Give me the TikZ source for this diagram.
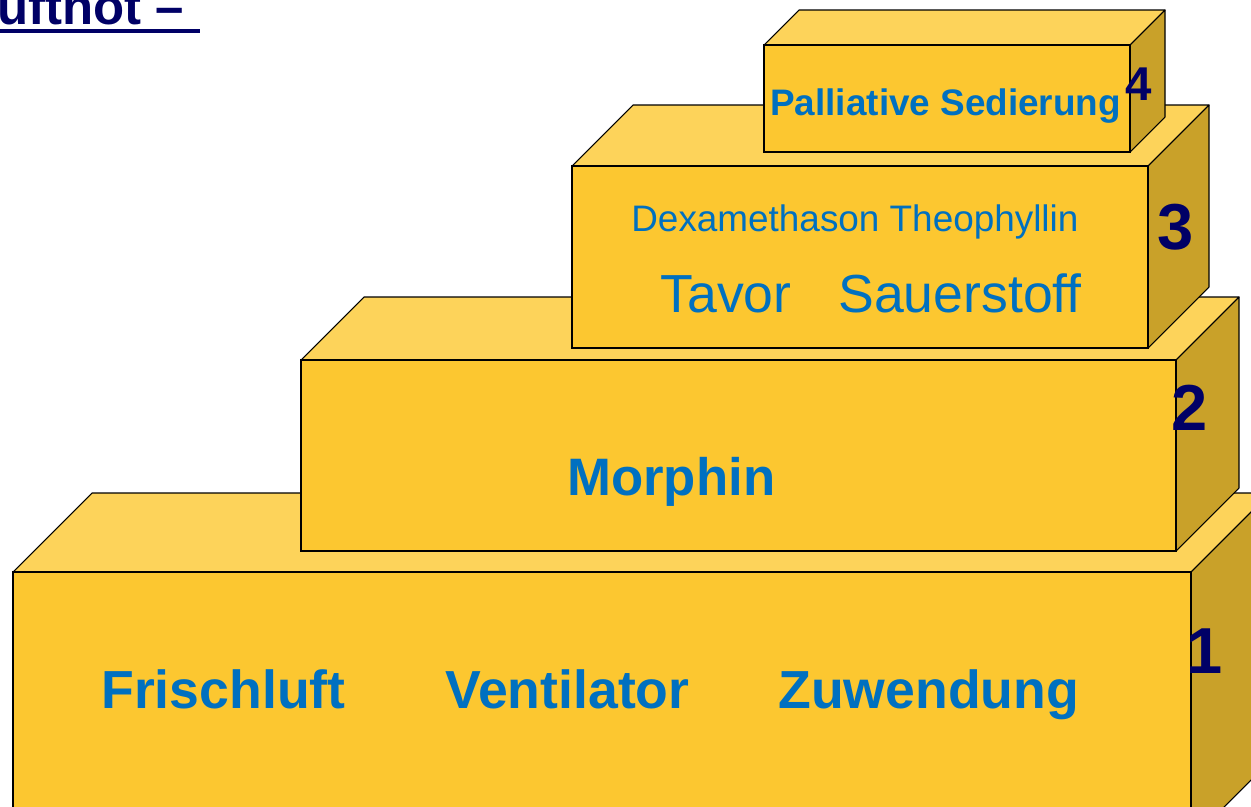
\documentclass[tikz,border=0pt]{standalone}
\usepackage{fontspec}
\setmainfont{Liberation Sans}
\usepackage{xcolor}
\definecolor{gelbvorne}{RGB}{252,199,48}
\definecolor{gelbdeck}{RGB}{253,211,90}
\definecolor{gelbseite}{RGB}{201,161,41}
\definecolor{textblau}{RGB}{0,112,192}
\definecolor{nummerblau}{RGB}{0,0,102}

\begin{document}
\begin{tikzpicture}[x=0.02cm, y=-0.02cm,
    vorne/.style={fill=gelbvorne, draw=black, line width=1.1pt},
    deck/.style={fill=gelbdeck, draw=black, line width=.6pt, line join=round},
    seite/.style={fill=gelbseite, draw=black, line width=.6pt, line join=round},
    eintrag/.style={text=textblau, inner sep=0, anchor=base west},
    nummer/.style={text=nummerblau, font=\fontsize{37}{40}\selectfont\bfseries, inner sep=0, anchor=base}]
    \useasboundingbox (0,0) rectangle (1251,806);
    \clip (0,0) rectangle (1251,806);
    \foreach \xa/\ya/\xb/\yb/\d in {13/572/1191/840/79, 301/360/1176/551/63, 572/166/1148/348/61, 764/45/1130/152/35}{
        \draw[deck] (\xa,\ya) -- ++(\d,-\d) -- (\xb+\d,\ya-\d) -- (\xb,\ya) -- cycle;
        \draw[seite] (\xb,\ya) -- ++(\d,-\d) -- (\xb+\d,\yb-\d) -- (\xb,\yb) -- cycle;
        \draw[vorne] (\xa,\ya) rectangle (\xb,\yb);
    }
    \node[eintrag, font=\fontsize{30.5}{36}\selectfont\bfseries] (frischluft) at (101,708) {Frischluft};
    \node[eintrag, font=\fontsize{30.5}{36}\selectfont\bfseries] (ventilator) at (445,708) {Ventilator};
    \node[eintrag, font=\fontsize{30.5}{36}\selectfont\bfseries] (zuwendung) at (778,708) {Zuwendung};
    \node[eintrag, font=\fontsize{30}{36}\selectfont\bfseries] (morphin) at (567,495) {Morphin};
    \node[eintrag, font=\fontsize{21}{25}\selectfont] (dexa) at (631,231) {Dexamethason Theophyllin};
    \node[eintrag, font=\fontsize{30.5}{36}\selectfont] (tavor) at (660,312) {Tavor};
    \node[eintrag, font=\fontsize{30.5}{36}\selectfont] (sauerstoff) at (838,312) {Sauerstoff};
    \node[eintrag, font=\fontsize{21}{25}\selectfont\bfseries] (palliativ) at (770,115) {Palliative Sedierung};
    \node[nummer] (n1) at (1205,673) {1};
    \node[nummer] (n2) at (1190,430) {2};
    \node[nummer] (n3) at (1176,249) {3};
    \node[nummer, font=\fontsize{27}{30}\selectfont\bfseries] (n4) at (1139,100) {4};
    \node[text=nummerblau, font=\fontsize{29}{32}\selectfont\bfseries, inner sep=0, anchor=base west] (titel) at (-3,24) {uftnot –};
    \draw[nummerblau, line width=2.3pt] (0,31) -- (200,31);
\end{tikzpicture}
\end{document}
